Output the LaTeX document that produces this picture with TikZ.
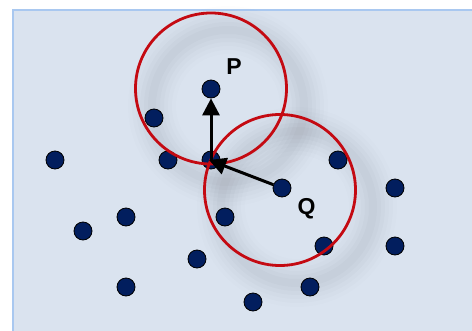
\documentclass[tikz,border=0pt]{standalone}
\usepackage{fontspec}
\setmainfont{Liberation Sans}
\usetikzlibrary{arrows.meta}
\definecolor{bgfill}{HTML}{DAE3EF}
\definecolor{bgline}{HTML}{A9C8F0}
\definecolor{dotfill}{HTML}{021E5E}
\definecolor{ringred}{HTML}{C40A12}
\begin{document}
\begin{tikzpicture}[x=1pt,y=-1pt,
  dot/.style={circle,fill=dotfill,draw=black,line width=0.8pt,minimum size=18pt,inner sep=0pt},
  ring/.style={draw=ringred,line width=2.8pt},
  vec/.style={line width=3pt,-{Triangle[width=17pt,length=17pt]}},
  lbl/.style={font=\bfseries\fontsize{23}{23}\selectfont,inner sep=0pt}]
\useasboundingbox (0,0) rectangle (472,330);
\fill[white] (0,0) rectangle (472,330);
\draw[bgline,fill=bgfill,line width=1.6pt] (12.8,9.8) rectangle (480,340);
% soft shadows of the two rings
\begin{scope}[black]
\foreach \w/\o in {48/0.008,40/0.01,32/0.012,24/0.014,16/0.016,8/0.016}{
  \draw[line width=\w pt,opacity=\o] (228,106) circle[radius=76];
  \draw[line width=\w pt,opacity=\o] (297,207) circle[radius=76];
}
\end{scope}
% points
\node[dot] (p) at (211,89) {};
\node[dot] (d1) at (154,118) {};
\node[dot] (d2) at (55,160) {};
\node[dot] (d3) at (168,160) {};
\node[dot] (c) at (211,160) {};
\node[dot] (d4) at (338,160) {};
\node[dot] (q) at (282,188) {};
\node[dot] (d5) at (395,188) {};
\node[dot] (d6) at (126,217) {};
\node[dot] (d7) at (83,231) {};
\node[dot] (d8) at (225,217) {};
\node[dot] (d9) at (324,246) {};
\node[dot] (d10) at (395,246) {};
\node[dot] (d11) at (197,259) {};
\node[dot] (d12) at (126,287) {};
\node[dot] (d13) at (310,287) {};
\node[dot] (d14) at (253,302) {};
% rings
\draw[ring] (211,88.5) circle[radius=75.5];
\draw[ring] (280,190) circle[radius=75.5];
% vectors
\draw[vec] (c.center) -- (p);
\draw[vec] (q) -- ([xshift=-2pt]c.center);
% labels
\node[lbl] (lp) at (234,67) {P};
\node[lbl] (lq) at (306.5,209) {Q};
\end{tikzpicture}
\end{document}
